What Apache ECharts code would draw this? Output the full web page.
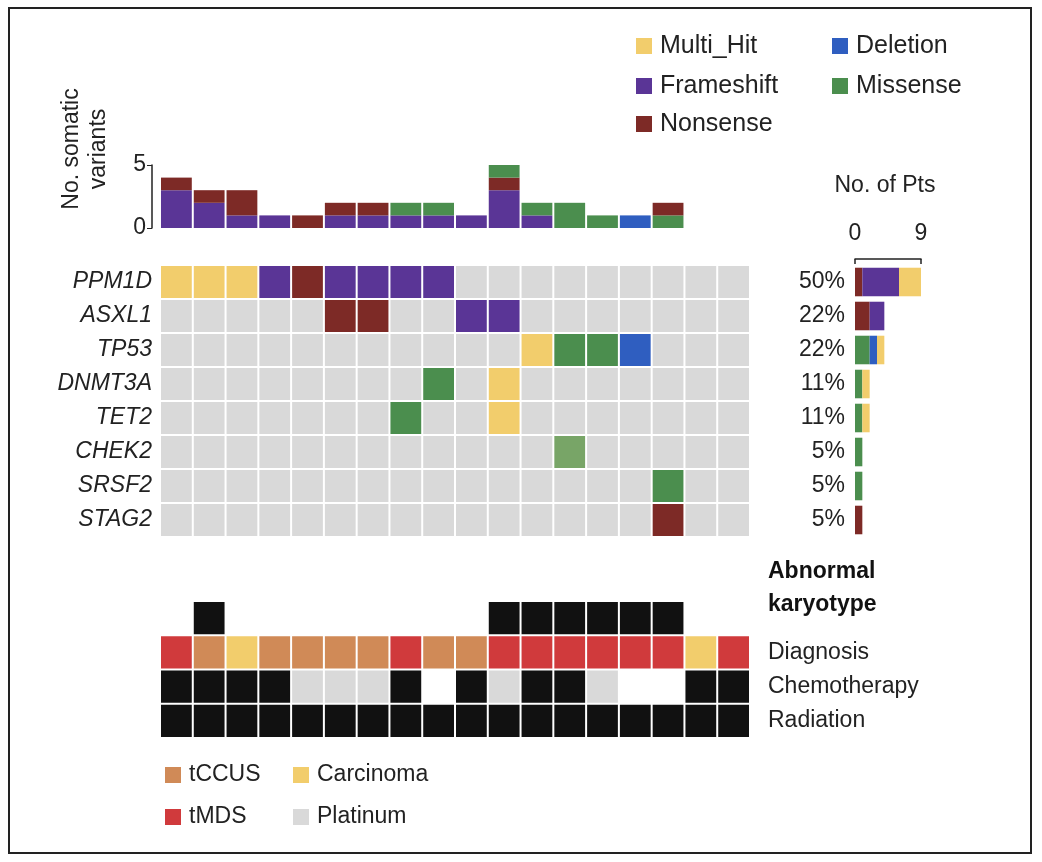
<!DOCTYPE html>
<html>
<head>
<meta charset="UTF-8">
<script src="https://cdn.jsdelivr.net/npm/echarts@6/dist/echarts.min.js"></script>
<style>body{margin:0;background:#fff}#c{width:1042px;height:862px}</style>
</head>
<body>
<div id="c"></div>
<script>
const genes = ['PPM1D', 'ASXL1', 'TP53', 'DNMT3A', 'TET2', 'CHEK2', 'SRSF2', 'STAG2'];
const pcts = ['50%', '22%', '22%', '11%', '11%', '5%', '5%', '5%'];
const cols = Array.from({length: 18}, (_, i) => 'P' + (i + 1));

// per-patient counts (top bars)
const topFrameshift = [3, 2, 1, 1, 0, 1, 1, 1, 1, 1, 3, 1, 0, 0, 0, 0, 0, 0];
const topMissense   = [0, 0, 0, 0, 0, 0, 0, 1, 1, 0, 0, 1, 2, 1, 0, 1, 0, 0];
const topDeletion   = [0, 0, 0, 0, 0, 0, 0, 0, 0, 0, 0, 0, 0, 0, 1, 0, 0, 0];
const topNonsense   = [1, 1, 2, 0, 1, 1, 1, 0, 0, 0, 1, 0, 0, 0, 0, 1, 0, 0];
const topMissense2  = [0, 0, 0, 0, 0, 0, 0, 0, 0, 0, 1, 0, 0, 0, 0, 0, 0, 0];

// per-gene counts (right bars)
const rNonsense   = [1, 2, 0, 0, 0, 0, 0, 1];
const rMissense   = [0, 0, 2, 1, 1, 1, 1, 0];
const rDeletion   = [0, 0, 1, 0, 0, 0, 0, 0];
const rFrameshift = [5, 2, 0, 0, 0, 0, 0, 0];
const rMulti      = [3, 0, 1, 1, 1, 0, 0, 0];

// oncoprint matrix: M multi, F frameshift, N nonsense, S missense, s missense(light), D deletion
const matrix = [
  'MMMFNFFFF.........',
  '.....NN..FF.......',
  '...........MSSD...',
  '........S.M.......',
  '.......S..M.......',
  '............s.....',
  '...............S..',
  '...............N..'
];
// annotation rows: K karyotype, C tCCUS, A carcinoma, T tMDS, X black, P platinum
const annRows = ['Abnormal karyotype', 'Diagnosis', 'Chemotherapy', 'Radiation'];
const annMatrix = [
  '.K........KKKKKK..',
  'TCACCCCTCCTTTTTTAT',
  'XXXXPPPX.XPXXP..XX',
  'XXXXXXXXXXXXXXXXXX'
];

const C = {M: '#F2CD6C', F: '#5A3596', N: '#7D2A26', S: '#4B8E4E', s: '#78A567', D: '#2F5EC0',
  K: '#111111', X: '#111111', C: '#D08A57', A: '#F2CD6C', T: '#D03A3C', P: '#D9D9D9', '.': '#D9D9D9'};

const cellData = [];
matrix.forEach((row, r) => row.split('').forEach((ch, c) => cellData.push([c, r, ch])));
const annData = [];
annMatrix.forEach((row, r) => row.split('').forEach((ch, c) => { if (ch !== '.') annData.push([c, r, ch]); }));

function cell(params, api) {
  const p = api.coord([api.value(0), api.value(1)]);
  const s = api.size([1, 1]);
  return {type: 'rect', shape: {x: p[0] - s[0] / 2 + 1, y: p[1] - s[1] / 2 + 1, width: s[0] - 2, height: s[1] - 2},
    style: {fill: C[api.value(2)]}};
}

const font = 'Liberation Sans';
const chart = echarts.init(document.getElementById('c'));
const topBar = (name, data, color) => ({type: 'bar', name, data, stack: 't', xAxisIndex: 0, yAxisIndex: 0,
  itemStyle: {color}, barCategoryGap: '6%'});
const rBar = (name, data, color) => ({type: 'bar', name, data, stack: 'r', xAxisIndex: 2, yAxisIndex: 2,
  itemStyle: {color}, barCategoryGap: '16%'});

function legendItem(x, y, color, text, size) {
  return [
    {type: 'rect', shape: {x: x, y: y - 8, width: 16, height: 16}, style: {fill: color}},
    {type: 'text', x: x + 24, y: y, style: {text, font: size + 'px ' + font, fill: '#222', verticalAlign: 'middle'}}
  ];
}

chart.setOption({
  animation: false,
  textStyle: {fontFamily: font},
  grid: [
    {left: 160, width: 590, top: 165, height: 63},
    {left: 160, width: 590, top: 265, height: 272},
    {left: 855, width: 66, top: 265, height: 272},
    {left: 160, width: 590, top: 601, height: 137}
  ],
  xAxis: [
    {gridIndex: 0, type: 'category', data: cols, show: false},
    {gridIndex: 1, type: 'category', data: cols, show: false},
    {gridIndex: 2, type: 'value', position: 'top', min: 0, max: 9, interval: 9, splitLine: {show: false},
      axisLine: {show: true, onZero: false, lineStyle: {color: '#222', width: 1.5}}, offset: 6,
      axisTick: {show: true, inside: true, length: 5, lineStyle: {color: '#222', width: 1.5}},
      axisLabel: {fontSize: 23, color: '#222', margin: 14}},
    {gridIndex: 3, type: 'category', data: cols, show: false}
  ],
  yAxis: [
    {gridIndex: 0, type: 'value', min: 0, max: 5, interval: 5, offset: 8, splitLine: {show: false},
      axisLine: {show: true, lineStyle: {color: '#222', width: 1.5}},
      axisTick: {show: true, length: 5, lineStyle: {color: '#222'}},
      axisLabel: {fontSize: 23, color: '#222', margin: 6},
      name: 'No. somatic\nvariants', nameLocation: 'middle', nameRotate: 90, nameGap: 40,
      nameTextStyle: {fontSize: 23, color: '#222', lineHeight: 27, padding: [0, 0, 0, 95]}},
    {gridIndex: 1, type: 'category', data: genes, inverse: true, axisLine: {show: false}, axisTick: {show: false},
      axisLabel: {fontSize: 23, color: '#222', fontStyle: 'italic', margin: 8}},
    {gridIndex: 2, type: 'category', data: genes, inverse: true, axisLine: {show: false}, axisTick: {show: false},
      axisLabel: {fontSize: 23, color: '#222', margin: 10, formatter: (v, i) => pcts[i]}},
    {gridIndex: 3, type: 'category', data: annRows, inverse: true, position: 'right',
      axisLine: {show: false}, axisTick: {show: false},
      axisLabel: {fontSize: 23, color: '#222', margin: 18, formatter: v => v === 'Abnormal karyotype' ? '' : v}}
  ],
  series: [
    topBar('Frameshift', topFrameshift, C.F),
    topBar('Missense', topMissense, C.S),
    topBar('Deletion', topDeletion, C.D),
    topBar('Nonsense', topNonsense, C.N),
    topBar('Missense ', topMissense2, C.S),
    {type: 'custom', xAxisIndex: 1, yAxisIndex: 1, data: cellData, renderItem: cell},
    rBar('Nonsense', rNonsense, C.N),
    rBar('Missense', rMissense, C.S),
    rBar('Deletion', rDeletion, C.D),
    rBar('Frameshift', rFrameshift, C.F),
    rBar('Multi_Hit', rMulti, C.M),
    {type: 'custom', xAxisIndex: 3, yAxisIndex: 3, data: annData, renderItem: cell}
  ],
  graphic: [
    {type: 'rect', shape: {x: 9, y: 8, width: 1022, height: 845}, style: {fill: 'none', stroke: '#222', lineWidth: 2}},
    {type: 'text', x: 768, y: 555, style: {text: 'Abnormal\nkaryotype', font: 'bold 23px ' + font, fill: '#111', lineHeight: 33}},
    ...legendItem(636, 46, C.M, 'Multi_Hit', 25),
    ...legendItem(832, 46, C.D, 'Deletion', 25),
    ...legendItem(636, 86, C.F, 'Frameshift', 25),
    ...legendItem(832, 86, C.S, 'Missense', 25),
    ...legendItem(636, 124, C.N, 'Nonsense', 25),
    ...legendItem(165, 775, C.C, 'tCCUS', 23),
    ...legendItem(293, 775, C.A, 'Carcinoma', 23),
    ...legendItem(165, 817, C.T, 'tMDS', 23),
    ...legendItem(293, 817, C.P, 'Platinum', 23),
    {type: 'text', x: 885, y: 186, style: {text: 'No. of Pts', font: '23px ' + font, fill: '#222', align: 'center', verticalAlign: 'middle'}}
  ]
});
</script>
</body>
</html>
